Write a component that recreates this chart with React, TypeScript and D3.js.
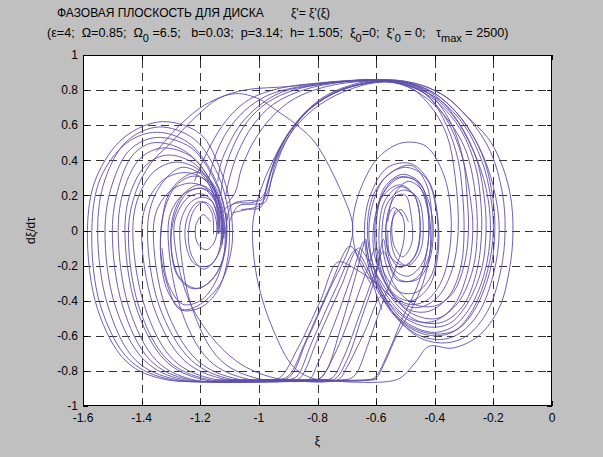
import React from "react";
import * as d3 from "d3";

type Pt = [number, number];

const W = 603;
const H = 457;
const margin = { top: 55, right: 51, bottom: 51, left: 83 };

const xTicks = [-1.6, -1.4, -1.2, -1, -0.8, -0.6, -0.4, -0.2, 0];
const yTicks = [-1, -0.8, -0.6, -0.4, -0.2, 0, 0.2, 0.4, 0.6, 0.8, 1];

// left well: loops that leave the lower flat, go round the left side and come down near -1.12
const leftOuterLoops: Pt[][] = [
  [[-1.05,-0.85],[-1.317,-0.85],[-1.45,-0.75],[-1.55,-0.45],[-1.585,0],[-1.555,0.3],[-1.46,0.53],[-1.33,0.62],[-1.2,0.55],[-1.13,0.34],[-1.1,0.17],[-1.09,0],[-1.095,-0.12],[-1.13,-0.3],[-1.2,-0.42],[-1.26,-0.45],[-1.31,-0.35],[-1.335,-0.15],[-1.33,0.05],[-1.31,0.2],[-1.26,0.3],[-1.2,0.33],[-1.15,0.25],[-1.12,0.1]],
  [[-1.0,-0.85],[-1.28,-0.85],[-1.42,-0.74],[-1.515,-0.43],[-1.55,0],[-1.525,0.29],[-1.45,0.51],[-1.34,0.59],[-1.22,0.52],[-1.14,0.32],[-1.105,0.12],[-1.1,0]],
  [[-1.02,-0.85],[-1.3,-0.85],[-1.44,-0.74],[-1.54,-0.43],[-1.57,0],[-1.54,0.3],[-1.45,0.5],[-1.35,0.56],[-1.24,0.5],[-1.16,0.33],[-1.12,0.15],[-1.11,0.02]],
  [[-0.95,-0.85],[-1.26,-0.85],[-1.39,-0.74],[-1.49,-0.43],[-1.525,0],[-1.5,0.265],[-1.44,0.46],[-1.35,0.53],[-1.23,0.47],[-1.15,0.28],[-1.115,0.1],[-1.11,-0.05],[-1.13,-0.2],[-1.18,-0.31],[-1.23,-0.33],[-1.28,-0.25],[-1.3,-0.05],[-1.28,0.12],[-1.24,0.22],[-1.19,0.24],[-1.15,0.17]],
  [[-0.93,-0.85],[-1.24,-0.85],[-1.37,-0.74],[-1.465,-0.43],[-1.5,0],[-1.478,0.25],[-1.43,0.43],[-1.36,0.5],[-1.25,0.45],[-1.16,0.27],[-1.125,0.08],[-1.12,-0.04]],
  [[-0.9,-0.85],[-1.225,-0.85],[-1.35,-0.74],[-1.445,-0.43],[-1.48,0],[-1.46,0.235],[-1.405,0.41],[-1.33,0.47],[-1.23,0.42],[-1.155,0.25],[-1.12,0.08],[-1.118,-0.02]],
  [[-0.88,-0.85],[-1.19,-0.85],[-1.32,-0.74],[-1.42,-0.43],[-1.457,0],[-1.438,0.215],[-1.384,0.374],[-1.31,0.43],[-1.215,0.374],[-1.15,0.215],[-1.12,0.05],[-1.12,-0.05]],
  [[-0.86,-0.85],[-1.146,-0.85],[-1.29,-0.74],[-1.39,-0.43],[-1.43,0],[-1.41,0.195],[-1.355,0.34],[-1.28,0.39],[-1.2,0.34],[-1.145,0.2],[-1.125,0.05],[-1.125,-0.08]],
  [[-0.82,-0.85],[-1.11,-0.85],[-1.255,-0.74],[-1.36,-0.43],[-1.4,0],[-1.38,0.165],[-1.325,0.29],[-1.25,0.33],[-1.185,0.29],[-1.145,0.17],[-1.128,0.03],[-1.13,-0.08]],
  [[-0.8,-0.85],[-1.09,-0.85],[-1.23,-0.74],[-1.34,-0.43],[-1.38,0],[-1.36,0.18],[-1.31,0.31],[-1.26,0.36],[-1.19,0.31],[-1.15,0.18],[-1.135,0.02]],
  [[-0.8,-0.85],[-1.064,-0.85],[-1.21,-0.74],[-1.32,-0.43],[-1.36,0],[-1.343,0.135],[-1.295,0.235],[-1.23,0.27],[-1.175,0.235],[-1.143,0.135],[-1.132,0]],
  [[-0.78,-0.85],[-1.03,-0.85],[-1.17,-0.74],[-1.27,-0.43],[-1.31,0],[-1.296,0.12],[-1.255,0.21],[-1.2,0.24],[-1.16,0.21],[-1.138,0.12],[-1.133,-0.02]],
  [[-0.7,-0.85],[-0.92,-0.85],[-1.08,-0.74],[-1.23,-0.43],[-1.29,0],[-1.275,0.11],[-1.24,0.19],[-1.2,0.21],[-1.165,0.18],[-1.145,0.1],[-1.14,-0.02]],
  [[-0.75,-0.85],[-0.986,-0.85],[-1.13,-0.74],[-1.23,-0.43],[-1.27,0],[-1.258,0.095],[-1.23,0.165],[-1.19,0.19],[-1.16,0.165],[-1.142,0.095],[-1.138,-0.02]],
];

// left well: small spirals round -1.2
const leftInnerLoops: Pt[][] = [
  [[-1.11,0.1],[-1.115,-0.1],[-1.15,-0.26],[-1.21,-0.33],[-1.27,-0.27],[-1.3,-0.08],[-1.29,0.1],[-1.25,0.22],[-1.2,0.26],[-1.15,0.2],[-1.125,0.05],[-1.13,-0.1],[-1.17,-0.2],[-1.22,-0.19],[-1.25,-0.07],[-1.245,0.07],[-1.21,0.16],[-1.17,0.15],[-1.145,0.05],[-1.15,-0.06],[-1.18,-0.11],[-1.21,-0.07],[-1.215,0.03],[-1.19,0.09],[-1.165,0.05]],
  [[-1.1,0.05],[-1.105,-0.15],[-1.14,-0.34],[-1.2,-0.44],[-1.27,-0.45],[-1.31,-0.32],[-1.335,-0.12],[-1.325,0.1],[-1.28,0.26],[-1.22,0.31],[-1.16,0.26],[-1.13,0.1],[-1.128,-0.05],[-1.15,-0.17],[-1.19,-0.22],[-1.23,-0.14],[-1.24,0],[-1.22,0.12],[-1.19,0.16],[-1.16,0.1],[-1.155,-0.02]],
];

// passes from the left well over the upper flat into the right well
const crossingPaths: Pt[][] = [
  [[-1.12,0.12],[-1.08,0.155],[-1.02,0.16],[-0.985,0.2],[-0.955,0.35],[-0.91,0.52],[-0.85,0.66],[-0.77,0.77],[-0.66,0.84],[-0.56,0.86],[-0.45,0.83],[-0.36,0.76],[-0.29,0.65],[-0.22,0.53],[-0.177,0.4],[-0.143,0.21],[-0.133,0],[-0.145,-0.22],[-0.18,-0.44],[-0.25,-0.6],[-0.34,-0.67],[-0.42,-0.66],[-0.47,-0.76],[-0.53,-0.85],[-0.8,-0.85]],
  [[-1.115,0.18],[-1.1,0.3],[-1.07,0.45],[-1.02,0.6],[-0.95,0.72],[-0.85,0.8],[-0.72,0.845],[-0.6,0.86],[-0.47,0.84],[-0.37,0.77],[-0.28,0.63],[-0.21,0.45],[-0.17,0.22],[-0.16,0],[-0.175,-0.23],[-0.22,-0.46],[-0.29,-0.6],[-0.36,-0.64],[-0.44,-0.62],[-0.5,-0.55],[-0.55,-0.45],[-0.58,-0.37],[-0.64,-0.58],[-0.7,-0.78],[-0.73,-0.85],[-0.9,-0.85]],
  [[-1.13,0.2],[-1.12,0.32],[-1.09,0.47],[-1.04,0.62],[-0.97,0.73],[-0.88,0.8],[-0.76,0.84],[-0.63,0.855],[-0.53,0.85],[-0.42,0.8],[-0.33,0.68],[-0.25,0.48],[-0.2,0.25],[-0.18,0],[-0.2,-0.25],[-0.25,-0.47],[-0.31,-0.58],[-0.37,-0.62],[-0.45,-0.6],[-0.53,-0.5],[-0.6,-0.33],[-0.66,-0.15],[-0.69,-0.09],[-0.76,-0.33],[-0.84,-0.63],[-0.9,-0.83],[-0.94,-0.85],[-1.1,-0.85]],
  [[-0.85,-0.85],[-1.17,-0.85],[-1.31,-0.74],[-1.41,-0.43],[-1.445,0],[-1.42,0.22],[-1.37,0.38],[-1.3,0.5],[-1.22,0.64],[-1.14,0.75],[-1.05,0.8],[-0.9,0.82],[-0.75,0.845],[-0.6,0.86],[-0.48,0.82],[-0.38,0.74],[-0.3,0.6],[-0.24,0.4],[-0.21,0.2],[-0.2,0],[-0.22,-0.23],[-0.27,-0.45],[-0.33,-0.57],[-0.4,-0.6],[-0.48,-0.56],[-0.55,-0.45],[-0.61,-0.28],[-0.65,-0.15],[-0.67,-0.11],[-0.74,-0.34],[-0.82,-0.64],[-0.87,-0.83],[-0.9,-0.85],[-1.05,-0.85]],
  [[-1.1,0.05],[-1.07,0.14],[-1.02,0.15],[-0.98,0.16],[-0.955,0.3],[-0.91,0.5],[-0.84,0.67],[-0.74,0.79],[-0.63,0.84],[-0.53,0.85],[-0.43,0.79],[-0.34,0.66],[-0.27,0.46],[-0.225,0.24],[-0.21,0],[-0.23,-0.24],[-0.28,-0.44],[-0.34,-0.55],[-0.41,-0.58],[-0.5,-0.52],[-0.57,-0.38],[-0.61,-0.2],[-0.625,0],[-0.61,0.16],[-0.57,0.3],[-0.5,0.36],[-0.43,0.3],[-0.395,0.12],[-0.39,-0.08],[-0.41,-0.25],[-0.46,-0.35],[-0.52,-0.35],[-0.57,-0.25],[-0.6,-0.1],[-0.63,-0.22],[-0.68,-0.45],[-0.74,-0.7],[-0.79,-0.84],[-0.82,-0.85],[-1.0,-0.85]],
  [[-1.17,0.3],[-1.15,0.42],[-1.11,0.56],[-1.05,0.68],[-0.97,0.77],[-0.86,0.82],[-0.72,0.85],[-0.57,0.855],[-0.48,0.82],[-0.39,0.73],[-0.31,0.57],[-0.26,0.36],[-0.243,0.16],[-0.24,0],[-0.255,-0.22],[-0.3,-0.42],[-0.37,-0.52],[-0.45,-0.52],[-0.52,-0.44],[-0.58,-0.3],[-0.63,-0.16],[-0.66,-0.1],[-0.72,-0.32],[-0.8,-0.62],[-0.85,-0.82],[-0.87,-0.85],[-1.0,-0.85]],
  [[-1.11,0.15],[-1.08,0.22],[-1.06,0.35],[-1.02,0.5],[-0.96,0.64],[-0.88,0.75],[-0.77,0.82],[-0.64,0.85],[-0.52,0.84],[-0.45,0.8],[-0.37,0.66],[-0.31,0.44],[-0.28,0.2],[-0.27,0],[-0.29,-0.25],[-0.34,-0.44],[-0.41,-0.52],[-0.49,-0.5],[-0.56,-0.38],[-0.61,-0.2],[-0.63,0],[-0.61,0.2],[-0.55,0.33],[-0.48,0.37],[-0.43,0.27],[-0.41,0.06],[-0.42,-0.15],[-0.47,-0.28],[-0.53,-0.28],[-0.575,-0.12],[-0.6,-0.22],[-0.65,-0.45],[-0.71,-0.72],[-0.75,-0.84],[-0.78,-0.85],[-0.95,-0.85]],
  [[-0.6,-0.85],[-0.8,-0.85],[-0.88,-0.78],[-0.95,-0.57],[-1.0,-0.32],[-1.02,-0.1],[-1.02,0.05],[-1.0,0.2],[-0.96,0.37],[-0.9,0.55],[-0.82,0.7],[-0.72,0.8],[-0.6,0.85],[-0.5,0.83],[-0.42,0.76],[-0.36,0.6],[-0.32,0.4],[-0.305,0.2],[-0.3,0],[-0.31,-0.2],[-0.35,-0.37],[-0.42,-0.46],[-0.49,-0.45],[-0.55,-0.35],[-0.6,-0.18],[-0.61,0],[-0.58,0.19],[-0.52,0.26],[-0.47,0.2],[-0.45,0.02],[-0.47,-0.15],[-0.52,-0.21],[-0.56,-0.11],[-0.565,0.04],[-0.54,0.13],[-0.51,0.08],[-0.505,-0.05],[-0.53,-0.2],[-0.58,-0.42],[-0.63,-0.66],[-0.67,-0.82],[-0.7,-0.85],[-0.85,-0.85]],
  [[-1.22,0.28],[-1.19,0.4],[-1.15,0.53],[-1.1,0.65],[-1.03,0.75],[-0.93,0.81],[-0.8,0.84],[-0.66,0.855],[-0.5,0.84],[-0.4,0.77],[-0.32,0.62],[-0.26,0.42],[-0.232,0.2],[-0.225,0],[-0.24,-0.22],[-0.29,-0.42],[-0.35,-0.53],[-0.42,-0.55],[-0.5,-0.5],[-0.57,-0.38],[-0.62,-0.2],[-0.64,-0.06],[-0.68,-0.24],[-0.74,-0.52],[-0.8,-0.76],[-0.83,-0.85],[-0.95,-0.85]],
  [[-1.14,0.28],[-1.13,0.38],[-1.1,0.5],[-1.06,0.61],[-1.0,0.71],[-0.92,0.79],[-0.8,0.83],[-0.68,0.85],[-0.56,0.85],[-0.47,0.8],[-0.38,0.68],[-0.3,0.48],[-0.265,0.25],[-0.255,0],[-0.27,-0.22],[-0.32,-0.41],[-0.39,-0.5],[-0.47,-0.48],[-0.54,-0.38],[-0.59,-0.21],[-0.605,0],[-0.58,0.2],[-0.52,0.3],[-0.46,0.28],[-0.42,0.16],[-0.405,0],[-0.42,-0.18],[-0.46,-0.28],[-0.52,-0.28],[-0.56,-0.17],[-0.575,-0.05],[-0.6,-0.25],[-0.65,-0.5],[-0.7,-0.74],[-0.745,-0.85],[-0.9,-0.85]],
  [[-1.09,0.1],[-1.04,0.12],[-0.995,0.13],[-0.98,0.2],[-0.95,0.38],[-0.9,0.55],[-0.82,0.7],[-0.72,0.8],[-0.6,0.845],[-0.5,0.845],[-0.4,0.78],[-0.31,0.64],[-0.24,0.44],[-0.205,0.22],[-0.195,0],[-0.21,-0.22],[-0.26,-0.44],[-0.32,-0.56],[-0.39,-0.59],[-0.47,-0.56],[-0.54,-0.47],[-0.6,-0.3],[-0.63,-0.12],[-0.635,-0.05],[-0.67,-0.26],[-0.72,-0.55],[-0.77,-0.8],[-0.8,-0.85],[-0.95,-0.85]],
  [[-1.06,0.12],[-1.0,0.14],[-0.97,0.22],[-0.94,0.4],[-0.88,0.58],[-0.79,0.72],[-0.68,0.81],[-0.58,0.845],[-0.49,0.82],[-0.42,0.72],[-0.36,0.55],[-0.33,0.3],[-0.32,0],[-0.34,-0.22],[-0.39,-0.38],[-0.46,-0.44],[-0.53,-0.4],[-0.6,-0.3],[-0.67,-0.22],[-0.73,-0.18],[-0.79,-0.4],[-0.87,-0.68],[-0.93,-0.84],[-0.98,-0.85],[-1.15,-0.85]],
  [[-1.35,0.45],[-1.27,0.6],[-1.18,0.72],[-1.08,0.78],[-1.0,0.75],[-0.945,0.69],[-0.87,0.6],[-0.808,0.5],[-0.716,0.21],[-0.68,0.03],[-0.69,-0.09],[-0.76,-0.34],[-0.84,-0.64],[-0.9,-0.84],[-1.0,-0.85]],
  [[-1.33,-0.1],[-1.31,-0.3],[-1.26,-0.42],[-1.2,-0.4],[-1.15,-0.3],[-1.12,-0.15],[-1.11,0.05],[-1.09,0.15],[-1.04,0.17],[-0.99,0.175],[-0.97,0.28],[-0.935,0.45],[-0.88,0.6],[-0.8,0.73],[-0.7,0.81],[-0.6,0.85],[-0.5,0.845],[-0.42,0.78],[-0.35,0.63],[-0.305,0.42],[-0.29,0.2],[-0.285,0],[-0.3,-0.2],[-0.34,-0.36],[-0.4,-0.43],[-0.47,-0.42],[-0.53,-0.33],[-0.57,-0.17],[-0.58,0],[-0.56,0.16],[-0.51,0.23],[-0.46,0.19],[-0.44,0.05],[-0.45,-0.12],[-0.49,-0.2],[-0.53,-0.16],[-0.55,-0.04],[-0.54,0.08],[-0.515,0.12],[-0.49,0.05]],
];

// right well: inner spirals round -0.54, some of them leaving for the lower flat
const rightInnerLoops: Pt[][] = [
  [[-0.62,-0.3],[-0.67,-0.12],[-0.68,0.05],[-0.65,0.25],[-0.59,0.42],[-0.51,0.5],[-0.43,0.48],[-0.37,0.32],[-0.345,0.1],[-0.35,-0.12],[-0.38,-0.3],[-0.43,-0.4],[-0.49,-0.42],[-0.55,-0.35],[-0.59,-0.18],[-0.6,0.02],[-0.58,0.2],[-0.53,0.3],[-0.47,0.29],[-0.43,0.16],[-0.42,-0.02],[-0.44,-0.18],[-0.49,-0.26],[-0.54,-0.22],[-0.565,-0.06],[-0.56,0.1],[-0.53,0.2],[-0.5,0.2],[-0.48,0.08],[-0.48,-0.08],[-0.51,-0.15],[-0.54,-0.08],[-0.545,0.05],[-0.53,0.12],[-0.51,0.08]],
  [[-0.58,-0.45],[-0.62,-0.25],[-0.64,0],[-0.62,0.2],[-0.56,0.36],[-0.48,0.38],[-0.42,0.28],[-0.39,0.08],[-0.39,-0.15],[-0.42,-0.32],[-0.48,-0.4],[-0.54,-0.36],[-0.58,-0.2],[-0.59,0],[-0.57,0.17],[-0.52,0.25],[-0.47,0.2],[-0.45,0.05],[-0.46,-0.12],[-0.5,-0.2],[-0.55,-0.15],[-0.56,0]],
  [[-0.56,0.05],[-0.54,0.2],[-0.49,0.28],[-0.44,0.22],[-0.42,0.05],[-0.43,-0.15],[-0.46,-0.32],[-0.51,-0.5],[-0.56,-0.7],[-0.6,-0.83],[-0.62,-0.85],[-0.85,-0.85]],
  [[-0.6,0.1],[-0.57,0.25],[-0.51,0.32],[-0.45,0.27],[-0.42,0.1],[-0.415,-0.1],[-0.44,-0.3],[-0.48,-0.45],[-0.53,-0.6],[-0.57,-0.75],[-0.6,-0.84],[-0.63,-0.85],[-0.9,-0.85]],
];

const allPaths: Pt[][] = [...leftOuterLoops, ...leftInnerLoops, ...crossingPaths, ...rightInnerLoops];

const font = "'Liberation Sans', Arial, sans-serif";

export default function App() {
  const x = d3.scaleLinear().domain([-1.6, 0]).range([margin.left, W - margin.right]);
  const y = d3.scaleLinear().domain([-1, 1]).range([H - margin.bottom, margin.top]);

  const line = d3
    .line<Pt>()
    .x((d) => x(d[0]))
    .y((d) => y(d[1]))
    .curve(d3.curveCatmullRom.alpha(0.5));

  const x0 = margin.left;
  const x1 = W - margin.right;
  const y0 = margin.top;
  const y1 = H - margin.bottom;
  const px = (v: number) => Math.round(x(v)) + 0.5;
  const py = (v: number) => Math.round(y(v)) + 0.5;

  return (
    <svg width={W} height={H} style={{ position: "absolute", left: 0, top: 0 }} fontFamily={font}>
      <rect width={W} height={H} fill="#c0c0c0" />
      <rect x={x0} y={y0} width={x1 - x0} height={y1 - y0} fill="#fff" />

      {/* grid */}
      <g stroke="#333" strokeWidth={1} strokeDasharray="8,5">
        {xTicks.slice(1, -1).map((t) => (
          <line key={"gx" + t} x1={px(t)} x2={px(t)} y1={y1} y2={y0} />
        ))}
        {yTicks.slice(1, -1).map((t) => (
          <line key={"gy" + t} x1={x0} x2={x1} y1={py(t)} y2={py(t)} />
        ))}
      </g>

      <defs>
        <clipPath id="plot">
          <rect x={x0} y={y0} width={x1 - x0} height={y1 - y0} />
        </clipPath>
      </defs>
      <g clipPath="url(#plot)" fill="none" stroke="#5f4eab" strokeWidth={0.9}>
        {allPaths.map((p, i) => (
          <path key={i} d={line(p) || ""} />
        ))}
      </g>

      {/* box and ticks */}
      <g stroke="#000" strokeWidth={1}>
        <rect x={x0 + 0.5} y={y0 + 0.5} width={x1 - x0 - 1} height={y1 - y0 - 1} fill="none" />
        {xTicks.map((t) => (
          <g key={"tx" + t}>
            <line x1={px(t)} x2={px(t)} y1={y1} y2={y1 - 5} />
            <line x1={px(t)} x2={px(t)} y1={y0} y2={y0 + 5} />
          </g>
        ))}
        {yTicks.map((t) => (
          <g key={"ty" + t}>
            <line x1={x0} x2={x0 + 5} y1={py(t)} y2={py(t)} />
            <line x1={x1} x2={x1 - 5} y1={py(t)} y2={py(t)} />
          </g>
        ))}
      </g>

      <g fontSize={12} fill="#000">
        {xTicks.map((t) => (
          <text key={"lx" + t} x={x(t)} y={y1 + 16} textAnchor="middle">
            {String(t)}
          </text>
        ))}
        {yTicks.map((t) => (
          <text key={"ly" + t} x={x0 - 5} y={y(t)} dy="0.35em" textAnchor="end">
            {String(t)}
          </text>
        ))}
        <text x={(x0 + x1) / 2} y={445} textAnchor="middle">ξ</text>
        <text transform={`translate(35,${(y0 + y1) / 2}) rotate(-90)`} textAnchor="middle">dξ/dτ</text>

        <text x={57} y={17}>ФАЗОВАЯ ПЛОСКОСТЬ ДЛЯ ДИСКА</text>
        <text x={291} y={17}>ξ'= ξ'(ξ)</text>
        <text x={47} y={37} fontSize={12.6} style={{ whiteSpace: "pre" }}>
          <tspan>(ε=4;  Ω=0.85;  Ω</tspan>
          <tspan dy={5} fontSize={11}>0</tspan>
          <tspan dy={-5}> =6.5;   b=0.03;  p=3.14;  h= 1.505;  ξ</tspan>
          <tspan dy={5} fontSize={11}>0</tspan>
          <tspan dy={-5}>=0;  ξ'</tspan>
          <tspan dy={5} fontSize={11}>0</tspan>
          <tspan dy={-5}> = 0;   τ</tspan>
          <tspan dy={5} fontSize={11}>max</tspan>
          <tspan dy={-5}> = 2500)</tspan>
        </text>
      </g>
    </svg>
  );
}
